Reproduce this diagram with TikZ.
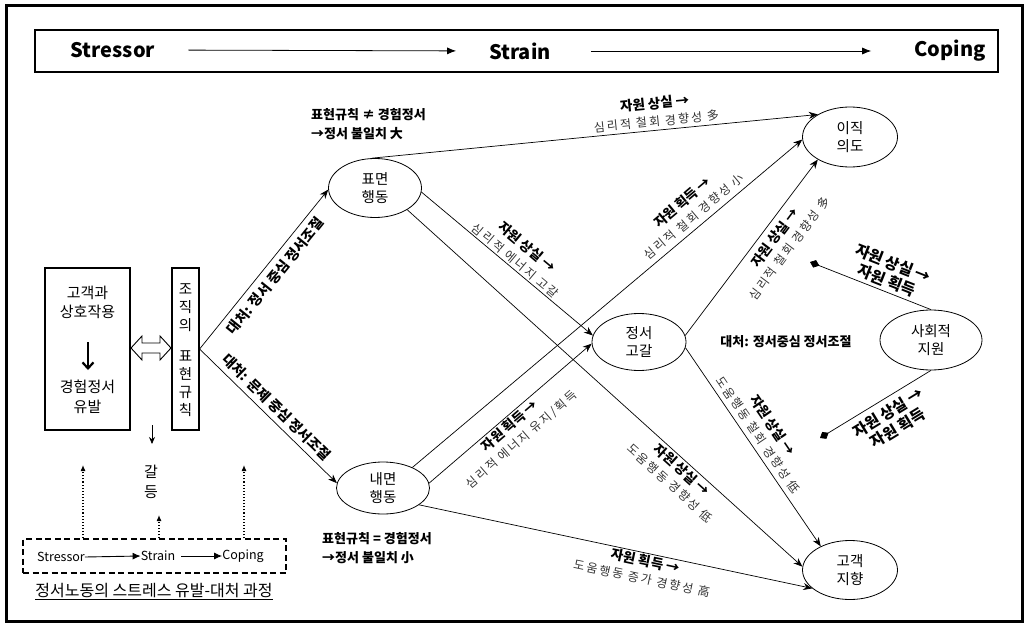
\documentclass[tikz,border=0pt]{standalone}
\usepackage{fontspec}
\setmainfont{Noto Sans CJK KR}
\newfontfamily\spacedfont[LetterSpace=18]{Noto Sans CJK KR}
\usetikzlibrary{shapes.geometric,arrows.meta,calc}
\newcommand{\labB}[1]{{\fontsize{13.5}{17}\selectfont\bfseries #1}}
\newcommand{\labR}[1]{{\spacedfont\fontsize{12}{14}\selectfont\color{black!80}#1}}
\begin{document}
\begin{tikzpicture}[x=1pt,y=-1pt,
  ell/.style={ellipse, draw, line width=0.8pt, inner sep=0pt, align=center, font=\fontsize{14.5}{18}\selectfont},
  edge/.style={line width=0.7pt, -{Stealth[length=9pt,width=7pt]}},
  sedge/.style={line width=0.7pt, -{Diamond[length=10pt,width=8pt]}},
  lab/.style={align=center, inner sep=3pt, font=\fontsize{12}{17.5}\selectfont},
  boldlab/.style={align=left, inner sep=0pt, font=\fontsize{13}{19}\selectfont\bfseries},
  head/.style={inner sep=0pt, font=\fontsize{20}{22}\selectfont\bfseries},
  small/.style={inner sep=0pt, font=\fontsize{12.5}{14}\selectfont},
  dotarrow/.style={line width=1.1pt, dotted, -{Latex[length=6pt,width=5pt]}},
]
\useasboundingbox (0,0) rectangle (1028,626);
\draw[line width=3pt] (6,6) rectangle (1022,621);

% header bar
\node[draw, line width=1.6pt, minimum width=963pt, minimum height=42pt, inner sep=0] (bar) at (516.5,51) {};
\node[head] (hs) at (113,50) {Stressor};
\node[head] (ht) at (520,51) {Strain};
\node[head] (hc) at (950,51) {Coping};
\draw[line width=0.8pt, -{Latex[length=9pt,width=7pt]}, shorten <=33pt, shorten >=33pt] (hs.east) -- (ht.west);
\draw[line width=0.8pt, -{Latex[length=9pt,width=7pt]}, shorten <=40pt, shorten >=43pt] (ht.east) -- (hc.west);

% left boxes
\node[draw, line width=1.2pt, minimum width=85pt, minimum height=162pt, inner sep=0] (cust) at (87.5,349) {};
\node[align=center, inner sep=0, font=\fontsize{15}{19}\selectfont] (c1) at (87.5,302) {고객과\\상호작용};
\node[align=center, inner sep=0, font=\fontsize{15}{20}\selectfont] (c2) at (87.5,397) {경험정서\\유발};
\coordinate (ca) at (88,342);
\coordinate (cb) at (88,370);
\draw[line width=2.2pt, -{Straight Barb[length=6pt,width=11pt]}] (ca) -- (cb);
\node[draw, line width=1.2pt, minimum width=27pt, minimum height=162pt, inner sep=0] (org) at (185.5,349) {};
\node[align=center, inner sep=0, font=\fontsize{14.5}{18}\selectfont] (o1) at (185.5,308) {조\\직\\의};
\node[align=center, inner sep=0, font=\fontsize{14.5}{18}\selectfont] (o2) at (185.5,384) {표\\현\\규\\칙};
\draw[line width=0.9pt, fill=white] (131,348) -- (142,336) -- (142,343) -- (160,343) -- (160,336) -- (171,348) -- (160,360) -- (160,353) -- (142,353) -- (142,360) -- cycle;

% conflict
\node[align=center, inner sep=0, font=\fontsize{15}{20}\selectfont] (conf) at (151,482) {갈\\등};
\coordinate (dn1) at (152,425);
\coordinate (dn2) at (152,444);
\draw[line width=0.8pt, -{Stealth[length=7pt,width=6pt]}] (dn1) -- (dn2);

% dashed box
\node[draw, dash pattern=on 6pt off 3.5pt, line width=1.3pt, minimum width=263pt, minimum height=34pt, inner sep=0] (dbox) at (154.5,556) {};
\node[small] (s1) at (61,557) {Stressor};
\node[small] (s2) at (158,556) {Strain};
\node[small] (s3) at (243,556) {Coping};
\draw[line width=0.9pt, -{Latex[length=8pt,width=7pt]}] (s1.east) -- (s2.west);
\draw[line width=0.9pt, -{Latex[length=8pt,width=7pt]}, shorten <=6pt] (s2.east) -- (s3.west);
\coordinate (u1) at (83,465);
\coordinate (u2) at (159,515);
\coordinate (u3) at (244,465);
\draw[dotarrow] (dbox.north -| u1) -- (u1);
\draw[dotarrow] (dbox.north -| u2) -- (u2);
\draw[dotarrow] (dbox.north -| u3) -- (u3);
\node[inner sep=0, font=\fontsize{16}{18}\selectfont] (cap) at (154,592) {\underline{정서노동의 스트레스 유발-대처 과정}};

% ellipses
\node[ell, minimum width=93pt, minimum height=59pt] (pyo) at (375,188) {표면\\행동};
\node[ell, minimum width=93pt, minimum height=52pt] (nae) at (383,488) {내면\\행동};
\node[ell, minimum width=95pt, minimum height=60pt] (ijik) at (850,137) {이직\\의도};
\node[ell, minimum width=94pt, minimum height=57pt] (jung) at (639,342) {정서\\고갈};
\node[ell, minimum width=102pt, minimum height=60pt] (sah) at (931,340) {사회적\\지원};
\node[ell, minimum width=95pt, minimum height=59pt] (gog) at (850,570) {고객\\지향};

% free texts
\node[boldlab, anchor=north west] (t1) at (311,108) {표현규칙 ≠ 경험정서\\→정서 불일치 大};
\node[boldlab, anchor=north west] (t2) at (322,532) {표현규칙 = 경험정서\\→정서 불일치 小};
\node[inner sep=0, font=\fontsize{13}{15}\selectfont\bfseries] (t3) at (786,342) {대처: 정서중심 정서조절};

% edges from org
\draw[edge] (org.east) -- node[lab, sloped, below, pos=.51, inner sep=6pt, font=\fontsize{14}{16}\selectfont\bfseries] {대처: 정서 중심 정서조절} (pyo.182);
\draw[edge] (org.east) -- node[lab, sloped, above, pos=.50, inner sep=5pt, font=\fontsize{14}{16}\selectfont\bfseries] {대처: 문제 중심 정서조절} (nae.174);

% edges from pyo
\draw[edge] (pyo.96) -- node[lab, sloped, above, pos=.64, inner sep=3pt] {\labB{자원 상실 →}\\\labR{심리적 철회 경향성 多}} (ijik.145);
\draw[edge] (pyo.-5) -- node[lab, sloped, above, pos=.52, inner sep=2pt] {\labB{자원 상실 →}\\\labR{심리적 에너지 고갈}} (jung.172);
\draw[edge] (pyo.-34) -- node[lab, sloped, below, pos=.71, inner sep=2pt] {\labB{자원 상실 →}\\\labR{도움행동 경향성 低}} (gog.176);

% edges from nae
\draw[edge] (nae.35) -- node[lab, sloped, above, pos=.74, inner sep=5pt] {\labB{자원 획득 →}\\\labR{심리적 철회 경향성 小}} (ijik.183);
\draw[edge] (nae.6) -- node[lab, sloped, below, pos=.46, inner sep=2pt] {\labB{자원 획득 →}\\\labR{심리적 에너지 유지/획득}} (jung.182);
\draw[edge] (nae.-25) -- node[lab, sloped, below, pos=.58, inner sep=1pt] {\labB{자원 획득 →}\\\labR{도움행동 증가 경향성 高}} (gog.206);

% edges from jung
\draw[edge] (jung.8) -- node[lab, sloped, below, pos=.60, inner sep=6pt] {\labB{자원 상실 →}\\\labR{심리적 철회 경향성 多}} (ijik.215);
\draw[edge] (jung.-7) -- node[lab, sloped, above, pos=.47, inner sep=5pt] {\labB{자원 상실 →}\\\labR{도움행동 철회 경향성 低}} (gog.141);

% social support
\coordinate (sp1) at (810,262);
\coordinate (sp2) at (820,438);
\draw[sedge] (sah.90) -- node[lab, sloped, above, pos=.40, inner sep=3pt, font=\fontsize{15.5}{18.5}\selectfont\bfseries] {자원 상실 →\\자원 획득} (sp1);
\draw[sedge] (sah.270) -- node[lab, sloped, below, pos=.45, inner sep=6pt, font=\fontsize{15.5}{18.5}\selectfont\bfseries] {자원 상실 →\\자원 획득} (sp2);
\end{tikzpicture}
\end{document}
